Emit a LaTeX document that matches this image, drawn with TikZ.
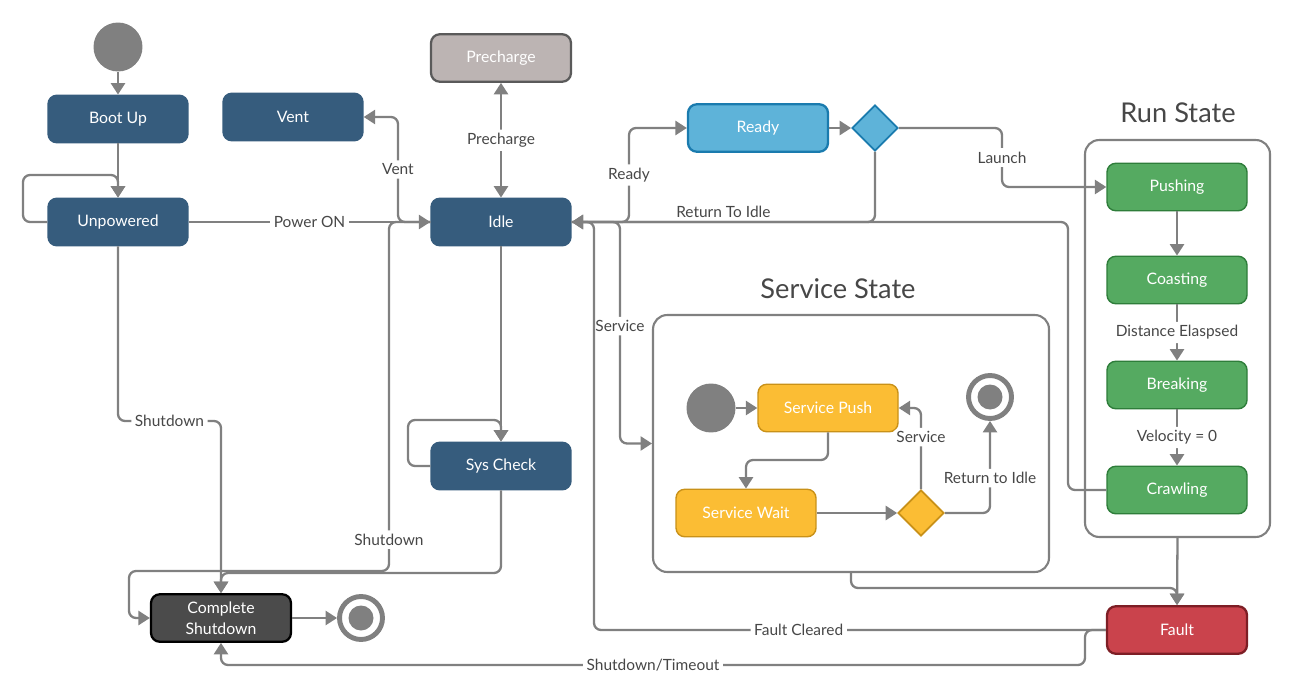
\documentclass[tikz,border=0pt]{standalone}
\usepackage{fontspec}
\setmainfont{Lato}
\usetikzlibrary{positioning, shapes.geometric, arrows.meta}

\definecolor{navy}{HTML}{365C7D}
\definecolor{linegray}{HTML}{808080}
\definecolor{txtgray}{HTML}{474747}
\definecolor{readyfill}{HTML}{5EB3D9}
\definecolor{readydraw}{HTML}{1A7BAE}
\definecolor{prefill}{HTML}{BCB4B3}
\definecolor{predraw}{HTML}{5A5A5A}
\definecolor{runfill}{HTML}{55AA61}
\definecolor{rundraw}{HTML}{2E7D3A}
\definecolor{svcfill}{HTML}{FBBD34}
\definecolor{svcdraw}{HTML}{C99118}
\definecolor{csfill}{HTML}{4B4B4B}
\definecolor{faultfill}{HTML}{CA434C}
\definecolor{faultdraw}{HTML}{7D1E25}

\begin{document}
\begin{tikzpicture}[x=0.02cm, y=-0.02cm,
        state/.style={draw=navy, fill=navy, line width=0.8pt, rounded corners=5pt,
                      text=white, minimum width=2.8cm, minimum height=0.95cm,
                      align=center, font=\fontsize{9}{12}\selectfont},
        runst/.style={state, draw=rundraw, fill=runfill},
        svcst/.style={state, draw=svcdraw, fill=svcfill},
        decide/.style={diamond, draw, line width=1pt, aspect=1, inner sep=0pt,
                       minimum size=0.92cm},
        initst/.style={circle, fill=linegray, inner sep=0pt, minimum size=0.98cm},
        finalst/.style={circle, draw=linegray, line width=2.8pt, fill=white,
                        inner sep=0pt, minimum size=0.86cm,
                        path picture={\fill[linegray] (path picture bounding box.center) circle (0.25cm);}},
        group/.style={draw=linegray, line width=1.2pt, rounded corners=8pt, fill=white},
        grouptitle/.style={text=txtgray, font=\fontsize{15.5}{18}\selectfont},
        conn/.style={draw=linegray, line width=1.3pt, rounded corners=4pt,
                     -{Triangle[length=6.5pt, width=8pt]}},
        lbl/.style={fill=white, text=txtgray, inner sep=2pt,
                    font=\fontsize{8.8}{10}\selectfont}]
      \useasboundingbox (0,0) rectangle (1294,699);

      % containers
      \node[group, minimum width=3.7cm, minimum height=7.94cm] (runbox) at (1177.5,338.5) {};
      \node[grouptitle] at (1178,113) {Run State};
      \node[group, minimum width=7.92cm, minimum height=5.14cm] (svcbox) at (851,443.5) {};
      \node[grouptitle] at (838,289) {Service State};

      % states
      \node[initst] (start) at (118,47) {};
      \node[state] (boot)   at (118,119) {Boot Up};
      \node[state] (vent)   at (293,117) {Vent};
      \node[state, draw=predraw, fill=prefill, line width=1.3pt] (pre) at (501,58) {Precharge};
      \node[state] (unpow)  at (118,222) {Unpowered};
      \node[state] (idle)   at (501,222) {Idle};
      \node[state, draw=readydraw, fill=readyfill, line width=1.3pt] (ready) at (758,128) {Ready};
      \node[decide, draw=readydraw, fill=readyfill] (rdec) at (875,128) {};
      \node[state] (sys)    at (501,466) {Sys Check};
      \node[state, draw=black, fill=csfill, line width=1.3pt] (cs) at (221,618) {Complete\\Shutdown};
      \node[finalst] (stop) at (361,618) {};
      \node[state, draw=faultdraw, fill=faultfill, line width=1.3pt] (fault) at (1177,630) {Fault};

      \node[runst] (push)  at (1177,187) {Pushing};
      \node[runst] (coast) at (1177,280) {Coasting};
      \node[runst] (brake) at (1177,385) {Breaking};
      \node[runst] (crawl) at (1177,490) {Crawling};

      \node[initst] (sinit) at (711,408) {};
      \node[svcst] (spush)  at (828,408) {Service Push};
      \node[finalst] (sfin) at (990,397) {};
      \node[svcst] (swait)  at (746,513) {Service Wait};
      \node[decide, draw=svcdraw, fill=svcfill] (sdec) at (921,513) {};

      % transitions
      \draw[conn] (start) -- (boot);
      \draw[conn] (boot) -- (unpow);
      \draw[conn] (unpow.west) -- (23,222) |- (118,175) -- (unpow.north);
      \draw[conn] (unpow) -- node[lbl]{Power ON} (idle);
      \draw[conn] (idle.west) -- (398,222) |- node[lbl, pos=0.25]{Vent} (vent.east);
      \draw[conn, {Triangle[length=6.5pt, width=8pt]}-{Triangle[length=6.5pt, width=8pt]}]
            (idle) -- node[lbl]{Precharge} (pre);
      \draw[conn] (idle.east) -- (629,222) |- node[lbl, pos=0.25]{Ready} (ready.west);
      \draw[conn] (ready) -- (rdec);
      \draw[conn] (rdec.south) |- node[pos=0.75, above, text=txtgray, inner sep=2pt,
            font=\fontsize{8.8}{10}\selectfont]{Return To Idle} (idle.east);
      \draw[conn] (rdec.east) -| node[lbl, pos=0.75]{Launch} (1002,187) -- (push.west);
      \draw[conn] (push) -- (coast);
      \draw[conn] (coast) -- node[lbl]{Distance Elaspsed} (brake);
      \draw[conn] (brake) -- node[lbl]{Velocity = 0} (crawl);
      \draw[conn] (crawl.west) -| (1068,222) -- (idle.east);
      \draw[conn] (idle.east) -- (620,222) -- node[lbl, pos=0.47]{Service} (620,443.5) -- (svcbox.west);
      \draw[conn] (fault.west) -- node[lbl, pos=0.6]{Fault Cleared} (594,630) |- (idle.east);
      \draw[conn] (svcbox.south) -- (851,588) -| (fault.north);
      \draw[conn] (runbox.south) -- (fault.north);
      \draw[conn] (fault.west) -- (1085,630) -- (1085,665)
            -- node[lbl]{Shutdown/Timeout} (221,665) -- (cs.south);
      \draw[conn] (unpow.south) -- (118,421) -- node[lbl]{Shutdown} (221,421) -- (cs.north);
      \draw[conn] (idle.west) -- (389,222) -- node[lbl, pos=0.91]{Shutdown} (389,571)
            -- (129,571) |- (cs.west);
      \draw[conn] (idle) -- (sys);
      \draw[conn] (sys.west) -- (408,466) |- (501,420) -- (sys.north);
      \draw[conn] (sys.south) -- (501,573) -| (cs.north);
      \draw[conn] (cs) -- (stop);

      % service state
      \draw[conn] (sinit) -- (spush);
      \draw[conn] (spush.south) -- (828,460) -| (swait.north);
      \draw[conn] (swait) -- (sdec);
      \draw[conn] (sdec.north) |- node[lbl, pos=0.32]{Service} (spush.east);
      \draw[conn] (sdec.east) -| node[lbl, pos=0.69]{Return to Idle} (sfin.south);
    \end{tikzpicture}
\end{document}
